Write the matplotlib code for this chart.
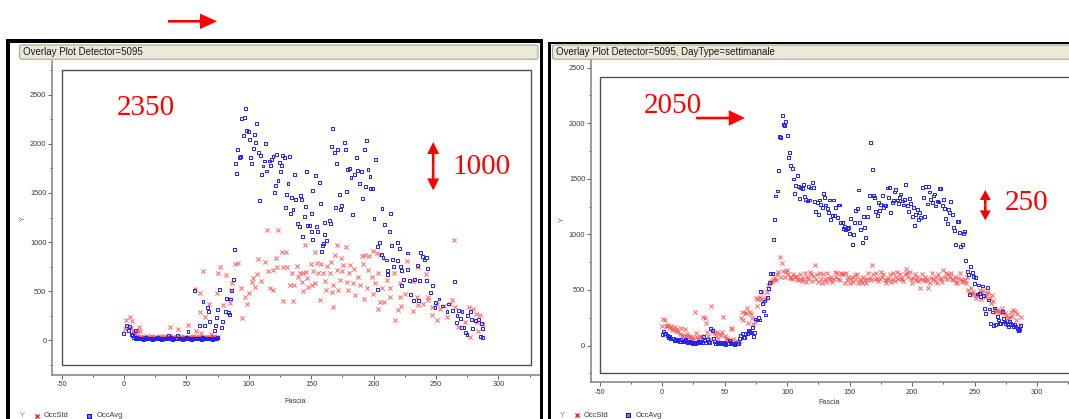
import numpy as np
import matplotlib
matplotlib.use("Agg")
import matplotlib.pyplot as plt
from matplotlib.patches import Rectangle, FancyArrow, FancyBboxPatch

plt.rcParams["font.family"] = ["Liberation Sans", "DejaVu Sans"]
plt.rcParams["axes.unicode_minus"] = False

W, H = 1069, 419

# detector 5095, all day types together: (Fascia, value)
left_avg_pts = [
    (97.5, 2355), (94.3, 2260), (96.4, 2270), (106.0, 2211), (98.0, 2133), (99.6, 2122),
    (104.6, 2096), (95.6, 2089), (100.4, 2048), (105.5, 2010), (113.5, 2000), (91.3, 1938),
    (103.4, 1952), (107.4, 1914), (93.0, 1870), (92.4, 1860), (101.5, 1860), (109.5, 1877),
    (122.4, 1891), (127.2, 1884), (132.5, 1873), (128.4, 1856), (112.4, 1825), (116.4, 1825),
    (118.3, 1840), (119.4, 1866), (102.0, 1802), (89.7, 1799), (111.4, 1774), (117.5, 1781),
    (124.4, 1809), (126.0, 1781), (90.0, 1702), (114.0, 1723), (125.5, 1716), (136.5, 1692),
    (146.0, 1716), (110.3, 1686), (123.4, 1627), (121.5, 1579), (120.4, 1501), (131.4, 1597),
    (130.0, 1481), (134.0, 1453), (137.6, 1433), (141.6, 1474), (142.0, 1433), (108.4, 1419),
    (129.6, 1348), (135.4, 1330), (133.6, 1289), (145.6, 1364), (144.5, 1258), (139.4, 1187),
    (140.5, 1159), (147.2, 1166), (143.4, 1057), (88.4, 920), (87.6, 623), (86.0, 503),
    (82.3, 428), (85.5, 421), (83.9, 288), (81.2, 295), (84.4, 267), (76.7, 518),
    (56.6, 503), (63.3, 398), (67.1, 336), (67.9, 292), (75.1, 319), (74.3, 231),
    (78.8, 193), (73.5, 149), (68.7, 190), (78.0, 134), (60.7, 152), (64.4, 149),
    (51.3, 93), (72.9, 104), (0.0, 67), (3.5, 100), (2.1, 149), (4.8, 145), (9.0, 97),
    (167.2, 2157), (166.1, 1969), (176.5, 2010), (194.2, 2037), (168.5, 1907), (171.2, 1945),
    (177.6, 1945), (192.5, 1945), (186.1, 1856), (170.1, 1802), (201.7, 1843), (153.6, 1675),
    (156.5, 1607), (179.2, 1740), (180.5, 1747), (184.8, 1686), (187.2, 1730), (190.4, 1720),
    (195.5, 1740), (197.1, 1668), (181.9, 1661), (188.9, 1597), (193.7, 1563), (197.7, 1549),
    (199.3, 1549), (151.2, 1522), (178.1, 1518), (172.5, 1484), (191.3, 1446), (157.6, 1392),
    (169.6, 1354), (174.1, 1368), (173.6, 1330), (183.2, 1282), (206.7, 1337), (213.4, 1289),
    (150.1, 1289), (200.3, 1238), (164.5, 1220), (160.5, 1197), (165.6, 1187), (154.1, 1159),
    (148.5, 1170), (208.6, 1180), (212.6, 1108), (150.1, 1112), (155.2, 1105), (151.3, 1023),
    (160.9, 1081), (162.2, 1012), (160.1, 989), (159.2, 968), (157.9, 903), (204.6, 999),
    (203.0, 954), (206.0, 876), (207.5, 841), (214.7, 964), (218.8, 992), (220.4, 938),
    (226.8, 889), (210.2, 818), (215.3, 825), (219.0, 815), (221.2, 756), (216.3, 753),
    (210.9, 715), (222.5, 708), (211.5, 667), (237.7, 897), (239.0, 852), (242.5, 845),
    (240.4, 818), (235.3, 763), (243.3, 733), (227.0, 722), (224.1, 623), (228.4, 613),
    (232.9, 620), (236.9, 613), (242.5, 613), (247.0, 558), (264.7, 603), (222.2, 562),
    (229.7, 469), (231.6, 408), (235.6, 408), (245.2, 483), (249.8, 384), (252.4, 421),
    (249.2, 339), (255.0, 350), (260.2, 370), (203.0, 520), (258.8, 298), (263.0, 305),
    (267.9, 305), (270.8, 298), (277.8, 298), (266.8, 254), (269.8, 220), (275.4, 254),
    (278.6, 210), (281.8, 203), (283.7, 210), (266.6, 186), (270.6, 134), (272.4, 128),
    (273.8, 83), (274.8, 56), (279.6, 124), (286.3, 175), (287.1, 118), (285.5, 39), (287.4, 26),
]

left_std_pts = [
    (4.8, 237), (1.6, 203), (6.2, 193), (0.8, 118), (3.4, 134), (11.8, 134), (10.2, 100),
    (12.8, 93), (36.6, 134), (43.5, 114), (51.3, 159), (56.9, 520), (60.9, 483), (63.5, 708),
    (60.9, 285), (67.9, 370), (64.9, 237), (69.5, 67), (57.4, 100), (61.4, 77), (76.9, 749),
    (75.6, 684), (81.7, 664), (74.3, 483), (79.6, 357), (83.6, 425), (84.7, 384), (86.5, 585),
    (88.9, 774), (91.6, 790), (85.5, 510), (94.0, 538), (96.7, 442), (98.8, 367), (100.4, 483),
    (94.6, 231), (114.3, 1125), (123.6, 1125), (126.8, 903), (129.8, 903), (107.6, 828),
    (113.0, 797), (121.8, 838), (103.6, 630), (105.2, 544), (109.8, 606), (117.0, 528),
    (119.2, 510), (127.6, 749), (122.4, 743), (119.2, 715), (130.4, 749), (138.4, 759),
    (134.4, 688), (139.7, 647), (143.7, 681), (136.5, 562), (133.0, 562), (143.7, 500),
    (127.6, 398), (135.7, 398), (115.6, 705), (106.3, 671), (102.3, 595),
    (144.8, 968), (153.0, 900), (170.4, 968), (177.9, 948), (168.8, 872), (173.9, 838),
    (190.4, 859), (193.1, 872), (196.6, 859), (199.8, 913), (202.5, 893), (205.1, 869),
    (264.7, 1023), (149.8, 777), (154.4, 784), (158.1, 777), (162.4, 759), (165.9, 794),
    (175.2, 770), (181.1, 763), (184.6, 722), (191.8, 777), (141.0, 681), (145.8, 695),
    (151.2, 705), (155.7, 681), (159.7, 688), (165.1, 688), (170.4, 715), (174.7, 705),
    (180.5, 681), (187.7, 647), (195.8, 715), (198.5, 647), (203.8, 688), (211.0, 613),
    (216.6, 681), (227.0, 804), (235.3, 749), (241.7, 674), (231.3, 606), (142.4, 595),
    (146.4, 630), (150.4, 562), (153.0, 579), (161.1, 606), (167.8, 562), (173.1, 613),
    (178.5, 595), (183.8, 579), (189.1, 562), (194.5, 528), (201.1, 585), (206.5, 528),
    (213.1, 528), (221.2, 585), (147.7, 544), (157.1, 415), (161.9, 510), (166.4, 493),
    (171.7, 510), (179.2, 510), (185.1, 459), (192.5, 425), (199.8, 476), (205.1, 390),
    (208.6, 390), (213.1, 442), (221.2, 442), (225.2, 469), (234.5, 442), (243.3, 442),
    (167.8, 339), (203.3, 322), (219.3, 312), (222.0, 346), (231.3, 298), (217.1, 210),
    (235.8, 357), (239.8, 367), (243.8, 408), (246.5, 339), (250.5, 374), (253.2, 322),
    (256.7, 346), (261.2, 367), (265.2, 339), (247.0, 254), (251.0, 203), (258.6, 237),
    (262.6, 415), (267.9, 141), (273.2, 186), (276.7, 339), (279.4, 322), (282.1, 271),
    (285.3, 254), (282.6, 186), (287.4, 162), (283.4, 100), (277.2, 32),
]

# night-time slots 6..75 sit almost on zero
base_slots = np.arange(6, 76)
left_avg_base = [
    60, 45, 30, 20, 25, 15, 18, 22, 15, 20, 12, 25, 18, 14, 20, 16, 22, 12, 18, 15,
    20, 25, 14, 18, 12, 20, 16, 22, 18, 14, 45, 25, 18, 12, 20, 15, 18, 50, 22, 14,
    18, 12, 20, 16, 25, 18, 14, 20, 12, 18, 15, 22, 16, 20, 14, 18, 12, 25, 15, 18,
    20, 14, 16, 22, 18, 12, 20, 15, 18, 25,
]
left_std_base = [
    130, 100, 85, 60, 45, 40, 35, 30, 38, 28, 32, 25, 40, 30, 35, 28, 45, 30, 25, 38,
    32, 28, 40, 35, 30, 28, 42, 30, 25, 35, 30, 40, 28, 32, 38, 25, 30, 35, 28, 40,
    30, 25, 35, 32, 28, 38, 30, 26, 34, 30, 40, 28, 32, 25, 36, 30, 28, 38, 30, 25,
    33, 28, 36, 30, 25, 32, 40, 28, 30, 35,
]

# detector 5095, DayType=settimanale: one value per 5-minute slot
slots = np.arange(288)
week_avg = [
    100, 125, 110, 105, 95, 70, 85, 60, 68, 62, 50, 55,
    45, 57, 40, 57, 35, 39, 45, 57, 30, 39, 35, 25,
    22, 28, 30, 18, 25, 39, 28, 35, 30, 80, 45, 28,
    57, 40, 30, 150, 140, 62, 35, 21, 25, 18, 30, 32,
    20, 15, 25, 12, 21, 18, 50, 30, 15, 22, 10, 21,
    15, 21, 60, 93, 110, 70, 71, 105, 111, 140, 130, 116,
    165, 86, 120, 239, 230, 251, 230, 485, 380, 311, 401, 275,
    434, 515, 567, 648, 650, 956, 1132, 1345, 1390, 1576, 1879, 1870,
    2065, 1990, 1975, 2014, 1885, 1693, 1735, 1618, 1591, 1498, 1370, 1441,
    1528, 1433, 1325, 1420, 1411, 1447, 1339, 1316, 1300, 1433, 1309, 1417,
    1468, 1420, 1294, 1208, 1290, 1181, 1309, 1267, 1240, 1370, 1334, 1264,
    1230, 1200, 1309, 1136, 1172, 1309, 1172, 1240, 1150, 1264, 1264, 1105,
    1109, 1049, 1075, 1040, 1054, 1064, 1010, 1145, 911, 995, 1109, 1219,
    1231, 1399, 1110, 1040, 925, 1159, 1060, 974, 1165, 1244, 1352, 1828,
    1585, 1352, 1330, 1204, 1172, 1290, 1213, 1270, 1352, 1240, 1264, 1258,
    1417, 1330, 1424, 1201, 1290, 1307, 1381, 1406, 1309, 1280, 1330, 1363,
    1300, 1264, 1316, 1447, 1260, 1204, 1321, 1280, 1165, 1240, 1076, 1180,
    1226, 1130, 1200, 1154, 1424, 1334, 1159, 1429, 1273, 1429, 1381, 1316,
    1290, 1345, 1363, 1255, 1300, 1291, 1411, 1411, 1260, 1316, 1235, 1141,
    1100, 1226, 1195, 1294, 1180, 1060, 1034, 905, 1118, 1118, 1016, 889,
    905, 1010, 1028, 764, 668, 640, 462, 709, 656, 620, 560, 614,
    464, 545, 470, 440, 536, 449, 330, 292, 521, 410, 329, 195,
    302, 180, 338, 192, 260, 230, 200, 201, 308, 246, 212, 195,
    190, 175, 218, 200, 185, 170, 188, 170, 150, 140, 146, 182,
]
week_std = [
    175, 235, 230, 180, 175, 185, 160, 176, 150, 140, 165, 130,
    150, 120, 100, 160, 95, 85, 150, 90, 105, 80, 85, 75,
    70, 60, 300, 110, 75, 60, 80, 85, 65, 255, 245, 200,
    120, 90, 60, 360, 140, 120, 110, 85, 125, 60, 100, 95,
    120, 254, 85, 70, 60, 40, 50, 155, 145, 60, 35, 30,
    40, 30, 45, 248, 305, 230, 296, 290, 338, 200, 299, 285,
    250, 190, 210, 425, 356, 415, 440, 420, 485, 395, 416, 430,
    485, 545, 560, 575, 585, 596, 610, 590, 640, 659, 800, 620,
    740, 671, 620, 660, 680, 640, 610, 620, 600, 640, 620, 626,
    600, 590, 640, 596, 580, 610, 650, 570, 620, 600, 660, 640,
    580, 630, 725, 600, 640, 570, 650, 600, 560, 640, 600, 575,
    650, 610, 590, 620, 570, 600, 660, 620, 650, 600, 590, 650,
    644, 640, 560, 650, 590, 620, 566, 600, 620, 570, 635, 600,
    640, 566, 600, 580, 566, 620, 590, 560, 600, 656, 610, 590,
    725, 640, 600, 650, 610, 580, 600, 662, 620, 640, 590, 560,
    590, 610, 640, 570, 600, 650, 580, 620, 662, 600, 640, 610,
    600, 580, 640, 686, 650, 620, 665, 600, 560, 610, 640, 590,
    620, 580, 515, 600, 640, 590, 620, 580, 600, 515, 560, 610,
    650, 600, 584, 620, 560, 640, 605, 600, 570, 680, 620, 650,
    600, 640, 620, 650, 600, 590, 620, 575, 560, 610, 650, 600,
    580, 575, 590, 560, 620, 500, 470, 520, 460, 480, 455, 430,
    455, 460, 500, 420, 470, 500, 440, 450, 470, 485, 430, 380,
    455, 400, 330, 300, 320, 310, 290, 300, 335, 310, 290, 275,
    240, 250, 260, 300, 270, 320, 310, 230, 280, 140, 185, 254,
]

titles = ["Overlay Plot Detector=5095",
          "Overlay Plot Detector=5095, DayType=settimanale"]

STD_COL = "#ff4848"
AVG_COL = "#2222ee"
TICK_COL = "#3a3a3a"


def draw_panel(fig, frame, xlim, ylim, box_top, yminor, std_x, std_y, avg_x, avg_y):
    x0, y0, x1, y1 = frame
    ax = fig.add_axes([x0 / W, 1 - y1 / H, (x1 - x0) / W, (y1 - y0) / H])
    ax.set_xlim(*xlim)
    ax.set_ylim(*ylim)
    for side in ("top", "right"):
        ax.spines[side].set_visible(False)
    for side in ("left", "bottom"):
        ax.spines[side].set_color("#808080")
        ax.spines[side].set_linewidth(1.1)
    # inner plot box
    ax.add_patch(Rectangle((-50, -250), 376, box_top + 250, fill=False,
                           ec="#505050", lw=1.0, zorder=1))
    ax.scatter(std_x, std_y, marker="x", s=9, c=STD_COL, linewidths=0.75,
               alpha=0.8, zorder=2)
    ax.scatter(avg_x, avg_y, marker="s", s=4.5, facecolors="none",
               edgecolors=AVG_COL, linewidths=0.7, zorder=3)
    ax.set_xticks(np.arange(-50, 301, 50))
    ax.set_xticks(np.arange(-25, 326, 50), minor=True)
    ax.set_yticks(np.arange(0, 2501, 500))
    ax.set_yticks(yminor, minor=True)
    ax.tick_params(which="both", direction="out", color="#606060", width=0.7,
                   labelsize=5.3, labelcolor=TICK_COL)
    ax.tick_params(which="major", length=2.6)
    ax.tick_params(which="minor", length=1.6)
    ax.tick_params(axis="y", pad=1.2)
    ax.tick_params(axis="x", pad=2.0)
    return ax


fig = plt.figure(figsize=(W / 100, H / 100), dpi=100)
fig.patch.set_facecolor("white")

left_avg_x = [p[0] for p in left_avg_pts] + list(base_slots)
left_avg_y = [p[1] for p in left_avg_pts] + left_avg_base
left_std_x = [p[0] for p in left_std_pts] + list(base_slots)
left_std_y = [p[1] for p in left_std_pts] + left_std_base

draw_panel(fig, (51.7, 61, 540, 375), (-57.9, 333.3), (-352, 2842), 2750,
           np.arange(-250, 2751, 500), left_std_x, left_std_y, left_avg_x, left_avg_y)
draw_panel(fig, (590.6, 60, 1069, 382.3), (-57.2, 325.5), (-330, 2568), 2416,
           np.arange(-250, 2251, 500), slots, week_std, slots, week_avg)

# frames, title bars, labels and notes in pixel coordinates
deco = fig.add_axes([0, 0, 1, 1])
deco.set_xlim(0, W)
deco.set_ylim(H, 0)
deco.axis("off")

for r in [(6, 39.5, 3.5, 380), (6, 39.5, 537, 3.5), (539.5, 39.5, 3.5, 380),
          (548, 42.5, 2.5, 377), (548, 42.5, 521, 2)]:
    deco.add_patch(Rectangle(r[:2], r[2], r[3], fc="black", ec="none"))

for bx, bw, title in [(19.6, 518.4, titles[0]), (552.5, 530, titles[1])]:
    deco.add_patch(FancyBboxPatch((bx, 45), bw, 14.2,
                                  boxstyle="round,pad=0,rounding_size=2",
                                  fc="#ece9d8", ec="#a8a494", lw=0.8))
    deco.text(bx + 3.8, 52.3, title, fontsize=7, color="#1a1a1a", va="center", ha="left")

for yx, yy, fx, fy, ly, lx in [(23, 218.5, 295, 401, 415.7, 22.4),
                               (562.6, 219.4, 829, 402.6, 415, 562)]:
    deco.text(yx, yy, "Y", rotation=90, fontsize=5.3, color="#707060",
              ha="center", va="center")
    deco.text(fx, fy, "Fascia", fontsize=5.3, color=TICK_COL, ha="center", va="center")
    deco.text(lx, ly, "Y", fontsize=5.6, color="#8c8c64", ha="center", va="center")
    deco.scatter([lx + 14.8], [ly], marker="x", s=9, c="#ff2020", linewidths=1.0)
    deco.text(lx + 21.6, ly, "OccStd", fontsize=5.4, color=TICK_COL, ha="left", va="center")
    deco.scatter([lx + 66.2], [ly], marker="s", s=6, facecolors="#8080ff",
                 edgecolors="#1010e0", linewidths=0.8)
    deco.text(lx + 74, ly, "OccAvg", fontsize=5.4, color=TICK_COL, ha="left", va="center")

# red notes
red = "#ff0000"
note_font = dict(fontsize=21, family="Liberation Serif", color=red,
                 ha="left", va="baseline")
deco.text(116.4, 115.4, "2350", **note_font)
deco.text(452.8, 174, "1000", **note_font)
deco.text(644, 113, "2050", **note_font)
deco.text(1005, 210, "250", **note_font)

deco.add_patch(FancyArrow(168, 21.3, 49, 0, width=2.6, head_width=15.5, head_length=17,
                          length_includes_head=True, color=red, lw=0))
deco.add_patch(FancyArrow(696, 118, 48.8, 0, width=2.6, head_width=15.5, head_length=16,
                          length_includes_head=True, color=red, lw=0))
for cx, cy, half, hw, hl in [(433.2, 166.2, 24.2, 12, 12), (985.3, 205.2, 15.2, 11, 10)]:
    for d in (-half, half):
        deco.add_patch(FancyArrow(cx, cy, 0, d, width=2.6, head_width=hw, head_length=hl,
                                  length_includes_head=True, color=red, lw=0))

fig.savefig("out.png", dpi=100, facecolor="white")
